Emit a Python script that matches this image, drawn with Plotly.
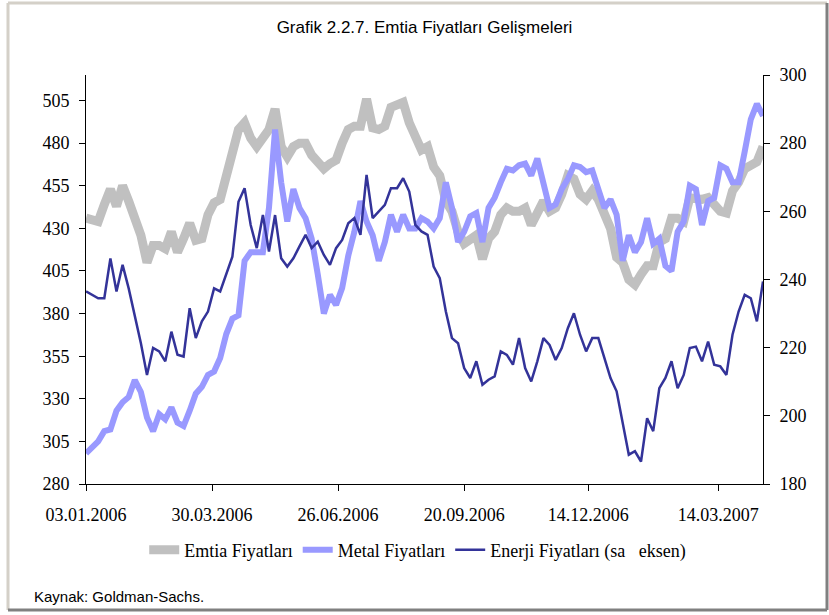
import pandas as pd
import plotly.graph_objects as go

# ---- data (every 3rd trading day) ----
emtia = [436, 435, 434, 444, 453, 443, 455, 446, 436, 426, 410, 420, 420, 418, 428, 416, 424, 433, 423, 424, 438, 445, 447,
         462, 475, 488, 492, 483, 478, 484, 488, 500, 478, 472, 478, 480, 480, 473, 469, 465, 468, 470, 480, 488, 490,
         490, 506, 489, 488, 490, 501, 502, 504, 492, 483, 476, 478, 466, 461, 446, 440, 428, 421, 424, 426, 412, 424,
         428, 438, 442, 440, 440, 442, 432, 438, 446, 440, 442, 450, 461, 459, 450, 447, 452, 447, 438, 430, 413, 410, 400,
         397, 403, 408, 408, 422, 424, 436, 436, 434, 448, 447, 447, 448, 443, 440, 439, 452, 457, 465, 467, 469, 478]

metal = [298, 302, 305, 311, 312, 323, 328, 331, 341, 334, 319, 311, 321, 318, 325, 316, 314, 323, 333, 337, 344, 346, 354,
         368, 377, 379, 411, 416, 416, 416, 442, 488, 457, 434, 453, 442, 436, 424, 403, 380, 391, 385, 395, 414, 428,
         446, 434, 426, 411, 422, 438, 428, 438, 430, 430, 436, 434, 430, 436, 457, 442, 422, 428, 437, 439, 422, 442,
         448, 457, 465, 464, 467, 468, 461, 471, 457, 442, 444, 453, 459, 467, 466, 463, 464, 454, 442, 447, 438, 411, 426,
         416, 422, 436, 421, 424, 408, 405, 428, 434, 455, 453, 432, 446, 448, 467, 465, 457, 457, 475, 494, 503, 496]

enerji = [236.5, 235.5, 234.5, 234.5, 246.2, 236.5, 244.3, 237.4, 229.6, 221.3, 212.0, 219.9, 218.9, 216.0, 224.7, 217.9,
          217.4, 231.6, 222.8, 227.7, 230.6, 237.4, 236.5,
          241.4, 246.7, 262.8, 266.8, 256.0, 249.2, 258.9, 248.2, 258.9, 246.2, 243.8, 246.2, 249.7, 253.1, 249.2, 251.1,
          247.2, 244.3, 249.2, 251.6, 256.5, 258.0,
          253.1, 270.7, 258.0, 259.9, 261.9, 266.8, 266.8, 269.7, 265.8, 256.0, 254.1, 253.1, 243.8, 240.4, 230.6, 222.8,
          221.3, 214.0, 211.1, 216.0, 209.1, 210.6,
          211.6, 218.9, 217.9, 215.0, 222.8, 214.0, 210.1, 216.0, 222.8, 220.8, 216.4, 219.9, 225.7, 230.1, 223.8, 218.9,
          222.8, 222.8, 216.9, 211.1, 207.2, 198.4, 188.6,
          189.6, 186.6, 199.3, 195.5, 208.1, 211.1, 216.0, 208.1, 212.0, 219.9, 220.3, 216.0, 221.8, 215.0, 214.5, 212.0,
          223.8, 230.6, 235.5, 234.5, 227.7, 239.4]

dates = list(pd.bdate_range("2006-01-03", periods=334)[::3])

tick_dates = ["2006-01-03", "2006-03-30", "2006-06-26", "2006-09-20", "2006-12-14", "2007-03-14"]
tick_labels = ["03.01.2006", "30.03.2006", "26.06.2006", "20.09.2006", "14.12.2006", "14.03.2007"]
left_ticks = [280, 305, 330, 355, 380, 405, 430, 455, 480, 505]
right_ticks = [180, 200, 220, 240, 260, 280, 300]

names = ["Emtia Fiyatları", "Metal Fiyatları", "Enerji Fiyatları (sa\u00a0\u00a0\u00a0eksen)"]

SERIF = "Liberation Serif, Times New Roman, serif"
SANS = "Liberation Sans, Arial, sans-serif"

fig = go.Figure()
fig.add_trace(go.Scatter(x=dates, y=emtia, name=names[0], mode="lines",
                         line=dict(color="#C0C0C0", width=9)))
fig.add_trace(go.Scatter(x=dates, y=metal, name=names[1], mode="lines",
                         line=dict(color="#9999FF", width=6)))
fig.add_trace(go.Scatter(x=dates, y=enerji, name=names[2], mode="lines", yaxis="y2",
                         line=dict(color="#333399", width=2.5)))

L, R, T, B = 86, 763, 75, 484
W, H = 829, 615
pw, ph = R - L, B - T


def px(x):
    return (x - L) / pw


def py(y):
    return (B - y) / ph


axis_common = dict(showgrid=False, zeroline=False, showline=True, linecolor="black", linewidth=1,
                   ticks="outside", ticklen=6, tickcolor="black", tickwidth=1,
                   tickfont=dict(family=SERIF, size=18, color="black"))

fig.update_layout(
    width=W, height=H, autosize=False,
    margin=dict(l=L, r=W - R, t=T, b=H - B, pad=0),
    paper_bgcolor="white", plot_bgcolor="white",
    title=dict(text="Grafik 2.2.7. Emtia Fiyatları Gelişmeleri", x=0.5, xref="paper",
               y=1 - 27 / H, yref="container", yanchor="middle", xanchor="center",
               font=dict(family=SANS, size=17, color="black")),
    xaxis=dict(type="date", range=[dates[0], dates[-1]],
               rangebreaks=[dict(bounds=["sat", "mon"])],
               tickmode="array", tickvals=tick_dates, ticktext=tick_labels,
               ticklabelstandoff=8, **axis_common),
    yaxis=dict(range=[280, 520], tickmode="array", tickvals=left_ticks,
               ticklabelstandoff=6, **axis_common),
    yaxis2=dict(range=[180, 300], tickmode="array", tickvals=right_ticks, overlaying="y", side="right",
                ticklabelstandoff=6, **axis_common),
    legend=dict(orientation="h", x=0.49, xanchor="center", y=py(550), yanchor="middle",
                font=dict(family=SERIF, size=18, color="black"), bgcolor="rgba(0,0,0,0)",
                itemwidth=30, tracegroupgap=0),
    showlegend=True,
    annotations=[dict(text="Kaynak: Goldman-Sachs.", x=px(32), y=py(596), xref="paper", yref="paper",
                      xanchor="left", yanchor="middle", showarrow=False,
                      font=dict(family=SANS, size=15, color="black"))],
    shapes=[
        dict(type="line", xref="paper", yref="paper", x0=px(8), x1=px(8), y0=py(3), y1=py(610),
             line=dict(color="#D4D0C8", width=3)),
        dict(type="line", xref="paper", yref="paper", x0=px(8), x1=px(827), y0=py(3), y1=py(3),
             line=dict(color="#D4D0C8", width=3)),
        dict(type="line", xref="paper", yref="paper", x0=px(827), x1=px(827), y0=py(3), y1=py(610),
             line=dict(color="#808080", width=3)),
        dict(type="line", xref="paper", yref="paper", x0=px(8), x1=px(827), y0=py(610), y1=py(610),
             line=dict(color="#808080", width=3)),
    ],
)

fig.write_html("out.html", config={"displayModeBar": False},
               post_script="document.body.style.margin='0';document.body.style.overflow='hidden';")
